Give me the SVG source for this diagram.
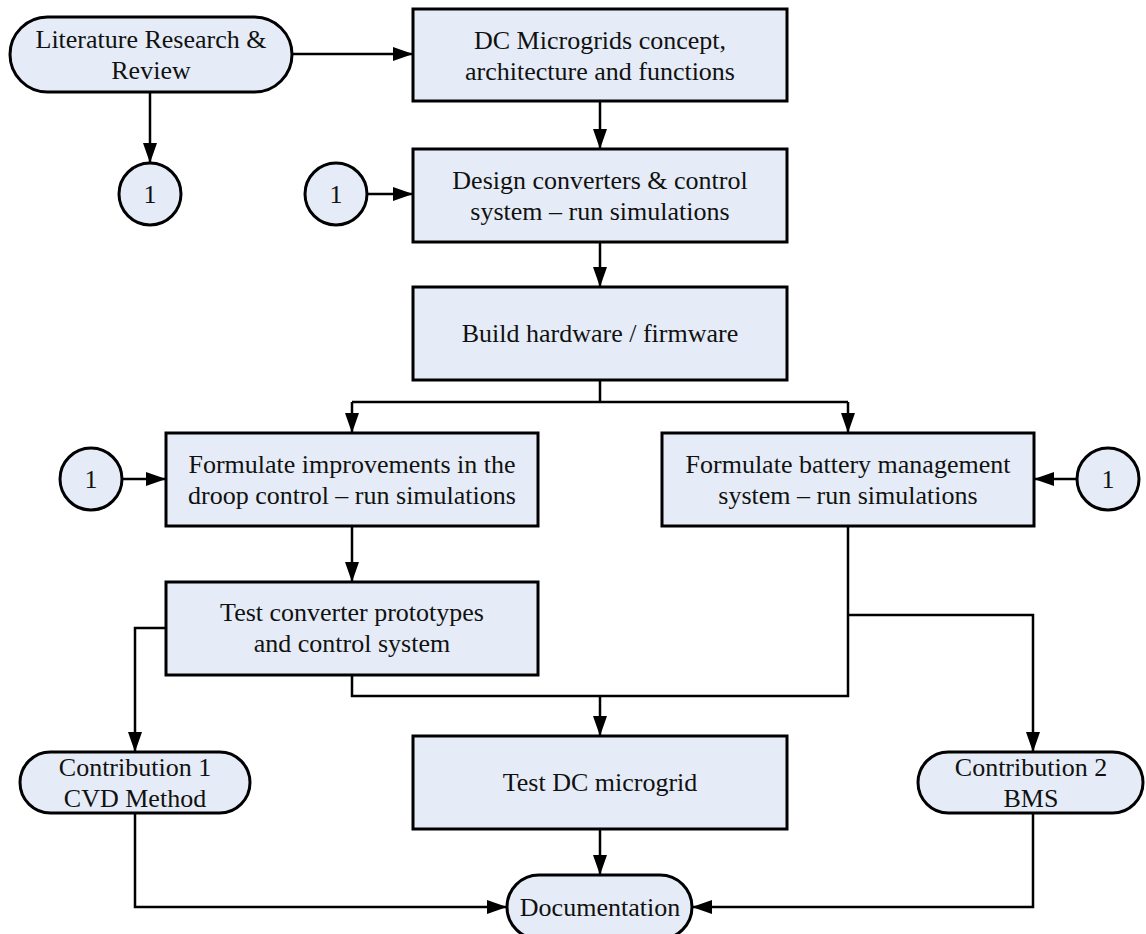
<svg xmlns="http://www.w3.org/2000/svg" width="1146" height="934" viewBox="0 0 1146 934">
<defs>
<marker id="arr" markerUnits="userSpaceOnUse" markerWidth="22" markerHeight="16" refX="20" refY="8" orient="auto">
<path d="M0,1 L20,8 L0,15 z" fill="#000"/>
</marker>
<style>
.n{fill:#E5ECF7;stroke:#000;stroke-width:3}
.t{font-family:"Liberation Serif","Times New Roman",serif;font-size:26px;fill:#111;text-anchor:middle}
.c{fill:none;stroke:#000;stroke-width:2.5}
.a{marker-end:url(#arr)}
</style>
</defs>
<rect width="1146" height="934" fill="#fff"/>
<g id="connectors">
<path class="c a" d="M292,54 H413"/>
<path class="c a" d="M150,92 V163"/>
<path class="c a" d="M600,101 V149"/>
<path class="c a" d="M367,194 H413"/>
<path class="c a" d="M600,242 V287"/>
<path class="c" d="M600,380 V402 M352,402 H848"/>
<path class="c a" d="M352,402 V433"/>
<path class="c a" d="M848,402 V433"/>
<path class="c a" d="M122,479 H166"/>
<path class="c a" d="M1077,479 H1034"/>
<path class="c a" d="M352,526 V582"/>
<path class="c a" d="M166,628 H135 V752"/>
<path class="c" d="M352,675 V696 H848 V526"/>
<path class="c a" d="M600,696 V736"/>
<path class="c a" d="M848,615 H1033 V752"/>
<path class="c a" d="M600,829 V875"/>
<path class="c a" d="M135,813 V907 H507"/>
<path class="c a" d="M1033,813 V907 H692"/>
</g>
<g id="literature">
<rect class="n" x="10" y="17" width="282" height="75" rx="37.5" ry="37.5"/>
<text class="t" x="151" y="48">Literature Research &amp;</text>
<text class="t" x="151" y="79">Review</text>
</g>
<g id="circle-a">
<circle class="n" cx="150" cy="194" r="31"/>
<text class="t" x="150" y="203">1</text>
</g>
<g id="dc-concept">
<rect class="n" x="413" y="9" width="374" height="92"/>
<text class="t" x="600" y="49">DC Microgrids concept,</text>
<text class="t" x="600" y="80">architecture and functions</text>
</g>
<g id="circle-b">
<circle class="n" cx="336" cy="194" r="31"/>
<text class="t" x="336" y="203">1</text>
</g>
<g id="design">
<rect class="n" x="413" y="149" width="374" height="93"/>
<text class="t" x="600" y="189">Design converters &amp; control</text>
<text class="t" x="600" y="220">system – run simulations</text>
</g>
<g id="build">
<rect class="n" x="413" y="287" width="374" height="93"/>
<text class="t" x="600" y="342">Build hardware / firmware</text>
</g>
<g id="circle-c">
<circle class="n" cx="91" cy="479" r="31"/>
<text class="t" x="91" y="488">1</text>
</g>
<g id="droop">
<rect class="n" x="166" y="433" width="372" height="93"/>
<text class="t" x="352" y="473">Formulate improvements in the</text>
<text class="t" x="352" y="504">droop control – run simulations</text>
</g>
<g id="bms">
<rect class="n" x="662" y="433" width="372" height="93"/>
<text class="t" x="848" y="473">Formulate battery management</text>
<text class="t" x="848" y="504">system – run simulations</text>
</g>
<g id="circle-d">
<circle class="n" cx="1108" cy="479" r="31"/>
<text class="t" x="1108" y="488">1</text>
</g>
<g id="test-converter">
<rect class="n" x="166" y="582" width="372" height="93"/>
<text class="t" x="352" y="621">Test converter prototypes</text>
<text class="t" x="352" y="652">and control system</text>
</g>
<g id="contribution1">
<rect class="n" x="20" y="752" width="230" height="61" rx="30.5" ry="30.5"/>
<text class="t" x="135" y="776">Contribution 1</text>
<text class="t" x="135" y="807">CVD Method</text>
</g>
<g id="test-dc">
<rect class="n" x="413" y="736" width="374" height="93"/>
<text class="t" x="600" y="791">Test DC microgrid</text>
</g>
<g id="contribution2">
<rect class="n" x="918" y="752" width="225" height="61" rx="30.5" ry="30.5"/>
<text class="t" x="1031" y="776">Contribution 2</text>
<text class="t" x="1031" y="807">BMS</text>
</g>
<g id="documentation">
<rect class="n" x="507" y="875" width="185" height="64" rx="32" ry="32"/>
<text class="t" x="600" y="916">Documentation</text>
</g>
</svg>
